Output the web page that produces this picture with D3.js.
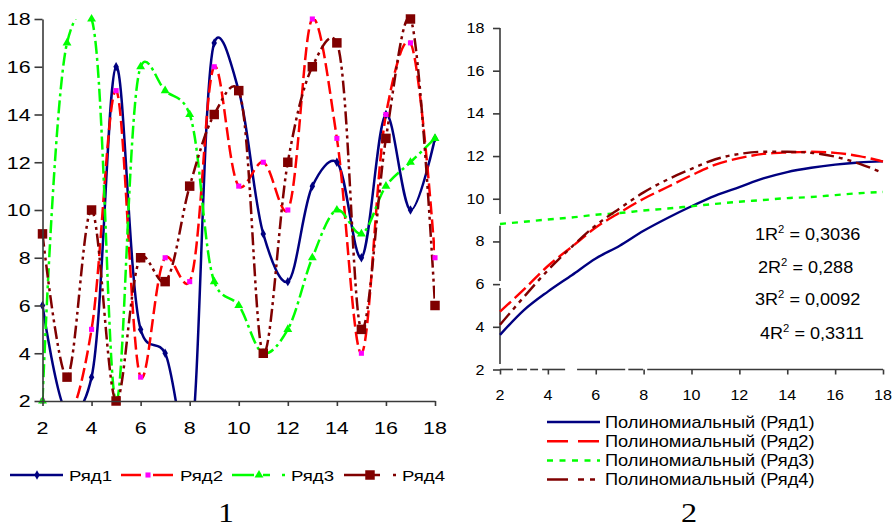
<!DOCTYPE html>
<html><head><meta charset="utf-8">
<script src="https://cdn.jsdelivr.net/npm/d3@7"></script>
<style>body{margin:0;background:#fff} svg{display:block}</style>
</head><body><svg id="c" width="894" height="529"></svg>
<script>
// ---------- data ----------
const xValues = [2,3,4,5,6,7,8,9,10,11,12,13,14,15,16,17,18];
const ryad1 = [6,1.5,3,16,5,4,0,17,15,9,7,11,12,8,14,10,13];
const ryad2 = [2,1.3,5,15,3,8,7,16,11,12,10,18,13,4,14,17,8];
const ryad3 = [2,17,18,2,16,15,14,7,6,4,5,8,10,9,11,12,13];
const ryad4 = [9,3,10,2,8,7,11,14,15,4,12,16,17,5,13,18,6];
const seriesNames = ["Ряд1","Ряд2","Ряд3","Ряд4"];

const trend1 = [3.62,4.78,5.65,6.42,7.2,7.8,8.5,9.1,9.65,10.15,10.55,10.95,11.25,11.45,11.6,11.7,11.75];
const trend2 = [4.71,5.75,6.85,7.75,8.65,9.35,10.0,10.55,11.1,11.6,11.9,12.1,12.17,12.2,12.15,12.0,11.74];
const trend3 = [8.82,8.92,9.03,9.12,9.25,9.33,9.45,9.54,9.65,9.76,9.86,9.94,10.03,10.08,10.17,10.26,10.32];
const trend4 = [4.1,5.4,6.65,7.75,8.75,9.55,10.3,10.9,11.4,11.85,12.1,12.2,12.2,12.15,11.97,11.65,11.2];
const trendNames = ["Полиномиальный (Ряд1)","Полиномиальный (Ряд2)","Полиномиальный (Ряд3)","Полиномиальный (Ряд4)"];
const r2Prefix = ["1","2","3","4"];
const r2Values = ["0,3036","0,288","0,0092","0,3311"];

const xTicks = [2,4,6,8,10,12,14,16,18];
const yTicks = [2,4,6,8,10,12,14,16,18];
const captions = ["1","2"];

// ---------- setup ----------
const svg = d3.select("#c");
const FONT = "'Liberation Sans', Arial, sans-serif";
const AXIS = "#3a3a3a";
function label(g, x, y, s, size, anchor, sx, family) {
  return g.append("text")
    .attr("transform", `translate(${x},${y}) scale(${sx},1)`)
    .attr("text-anchor", anchor).attr("font-size", size)
    .attr("font-family", family || FONT).attr("fill", "#000").text(s);
}

const styles = [
  {color:"#000080", dash:null, width:2.5, sym:d3.symbolDiamond, size:26, mcolor:"#000080"},
  {color:"#ff0000", dash:"13,5", width:2.5, sym:d3.symbolSquare, size:26, mcolor:"#ff00ff"},
  {color:"#00ff00", dash:"13,4,3,4", width:2.5, sym:d3.symbolTriangle, size:34, mcolor:"#00ff00"},
  {color:"#800000", dash:"13,4,3,4,3,4", width:2.5, sym:d3.symbolSquare, size:90, mcolor:"#800000"}
];

// ---------- left chart ----------
const xL = d3.scaleLinear().domain([2,18]).range([42.5,435]);
const yL = d3.scaleLinear().domain([2,18]).range([401,19]);
const gL = svg.append("g");

svg.append("defs").append("clipPath").attr("id","clipL")
  .append("rect").attr("x", xL(2)).attr("y", yL(18)).attr("width", xL(18)-xL(2)).attr("height", yL(2)-yL(18));

const allSeries = [ryad1, ryad2, ryad3, ryad4];
const lineL = d3.line().x(d=>xL(d[0])).y(d=>yL(d[1])).curve(d3.curveCatmullRom.alpha(0.25));

allSeries.forEach((s,i)=>{
  const st = styles[i];
  const pts = xValues.map((x,j)=>[x,s[j]]);
  gL.append("path").attr("d", lineL(pts)).attr("fill","none")
    .attr("stroke", st.color).attr("stroke-width", st.width)
    .attr("stroke-dasharray", st.dash).attr("clip-path","url(#clipL)");
});
allSeries.forEach((s,i)=>{
  const st = styles[i];
  const pts = xValues.map((x,j)=>[x,s[j]]).filter(p=>p[1]>=2 && p[1]<=18);
  gL.selectAll(null).data(pts).enter().append("path")
    .attr("d", d3.symbol().type(st.sym).size(st.size))
    .attr("transform", d=>`translate(${xL(d[0])},${yL(d[1])})`)
    .attr("fill", st.mcolor);
});

// axes left
const axL = gL.append("g").attr("transform",`translate(${xL(2)},0)`)
  .call(d3.axisLeft(yL).tickValues(yTicks).tickSize(8).tickSizeOuter(0).tickFormat(""));
const axB = gL.append("g").attr("transform",`translate(0,${yL(2)})`)
  .call(d3.axisBottom(xL).tickValues(xTicks).tickSize(5).tickSizeOuter(0).tickFormat(""));
[axL, axB].forEach(a=>{ a.selectAll("path,line").attr("stroke", AXIS).attr("stroke-width",1.6); });
yTicks.forEach(v=>label(gL, 30.7, yL(v)+6.3, String(v), 16.5, "end", 1.3));
xTicks.forEach(v=>label(gL, xL(v), 433.5, String(v), 16.5, "middle", 1.3));

// legend left
const legX = [10, 121, 232, 344];
const legTextX = [69, 180, 291, 402];
styles.forEach((st,i)=>{
  const y = 475;
  gL.append("line").attr("x1", legX[i]).attr("x2", legX[i]+53).attr("y1", y).attr("y2", y)
    .attr("stroke", st.color).attr("stroke-width", 2.5).attr("stroke-dasharray", i===1 ? "20,12,20" : (i===2 ? "22,9,7,12,5" : (i===3 ? "36,13,3,20" : null)));
  gL.append("path").attr("d", d3.symbol().type(st.sym).size(st.size))
    .attr("transform", `translate(${legX[i]+ (i===3?26:27)},${y})`).attr("fill", st.mcolor);
  label(gL, legTextX[i], 480.5, seriesNames[i], 15.5, "start", 1.2);
});
label(gL, 226, 522, captions[0], 27, "middle", 1.15, "'Liberation Serif', 'Times New Roman', serif");

// ---------- right chart ----------
const xR = d3.scaleLinear().domain([2,18]).range([500,883]);
const yR = d3.scaleLinear().domain([2,18]).range([369.5,28]);
const gR = svg.append("g");

const yAxisSegs = [[2.26,5.82],[6.15,8.73],[9.29,18]];
const xAxisSegs = [[2,2.54],[2.71,3.13],[3.26,3.59],[3.76,4.72],[5.22,7.23],[7.36,7.98],[8.15,18]];
yAxisSegs.forEach(s=>gR.append("line").attr("x1",xR(2)).attr("x2",xR(2)).attr("y1",yR(s[0])).attr("y2",yR(s[1])).attr("stroke",AXIS).attr("stroke-width",1.6));
xAxisSegs.forEach(s=>gR.append("line").attr("y1",yR(2)).attr("y2",yR(2)).attr("x1",xR(s[0])).attr("x2",xR(s[1])).attr("stroke",AXIS).attr("stroke-width",1.6));
const axRL = gR.append("g").attr("transform",`translate(${xR(2)},0)`)
  .call(d3.axisLeft(yR).tickValues(yTicks).tickSize(7).tickSizeOuter(0).tickFormat(""));
const axRB = gR.append("g").attr("transform",`translate(0,${yR(2)})`)
  .call(d3.axisBottom(xR).tickValues(xTicks).tickSize(5).tickSizeOuter(0).tickFormat(""));
[axRL, axRB].forEach(a=>{ a.select(".domain").remove(); a.selectAll("line").attr("stroke", AXIS).attr("stroke-width",1.6); });
yTicks.forEach(v=>label(gR, 484.5, yR(v)+5, String(v), 14, "end", 1.15));
xTicks.forEach(v=>label(gR, xR(v), 400, String(v), 14, "middle", 1.15));

const trendStyles = [
  {color:"#000080", dash:null},
  {color:"#ff0000", dash:"15,5"},
  {color:"#00ff00", dash:"6,6"},
  {color:"#800000", dash:"15,5,4,5,4,5"}
];
const lineR = d3.line().x(d=>xR(d[0])).y(d=>yR(d[1])).curve(d3.curveMonotoneX);
[trend1,trend2,trend3,trend4].forEach((t,i)=>{
  gR.append("path").attr("d", lineR(xValues.map((x,j)=>[x,t[j]]))).attr("fill","none")
    .attr("stroke", trendStyles[i].color).attr("stroke-width", 2.4)
    .attr("stroke-dasharray", trendStyles[i].dash);
});

// R² labels
const r2X = [755, 758, 755, 760];
const r2Y = [240, 273, 305, 339];
r2Values.forEach((v,i)=>{
  const t = gR.append("text").attr("transform",`translate(${r2X[i]},${r2Y[i]}) scale(1.13,1)`)
    .attr("font-size",16).attr("font-family",FONT).attr("fill","#000");
  t.append("tspan").text(r2Prefix[i] + "R");
  t.append("tspan").attr("font-size",10).attr("dy",-7).text("2");
  t.append("tspan").attr("dy",7).text(" = " + v);
});

// legend right
const legDash = [null, "21,10", "6,6.5", "21,10,6,6,5"];
trendNames.forEach((n,i)=>{
  const y = 422 + i*19.2;
  gR.append("line").attr("x1",547).attr("x2",600).attr("y1",y).attr("y2",y)
    .attr("stroke", trendStyles[i].color).attr("stroke-width",2.5).attr("stroke-dasharray", legDash[i]);
  label(gR, 605, y+5.5, n, 16, "start", 1.14);
});
label(gR, 689, 522, captions[1], 28, "middle", 1.15, "'Liberation Serif', 'Times New Roman', serif");
</script></body></html>
